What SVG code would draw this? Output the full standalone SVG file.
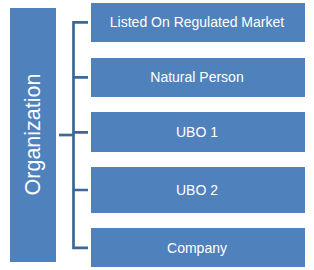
<svg xmlns="http://www.w3.org/2000/svg" width="314" height="270" viewBox="0 0 314 270">
<style>
.box{fill:#4F81BD;}
.lbl{fill:#FFFFFF;font-family:"Liberation Sans",Arial,sans-serif;font-size:14px;text-anchor:middle;dominant-baseline:central;}
.org{font-size:21.5px;}
.conn{fill:none;stroke:#3C6796;stroke-width:2.7;}
</style>
<rect width="314" height="270" fill="#FFFFFF"/>
<g id="connectors">
<path class="conn" d="M88,22.3 H73.5 V247.8 H88"/>
<path class="conn" d="M73.5,77.3 H88 M73.5,132.3 H88 M73.5,190 H88"/>
<path class="conn" d="M59,135 H73.5"/>
</g>
<g id="organization">
<rect class="box" x="10" y="8" width="46" height="254"/>
<text class="lbl org" transform="translate(33,134.5) rotate(-90)">Organization</text>
</g>
<g id="listed">
<rect class="box" x="91" y="3" width="214" height="39"/>
<text class="lbl" x="197" y="22">Listed On Regulated Market</text>
</g>
<g id="natural-person">
<rect class="box" x="91" y="58" width="214" height="39"/>
<text class="lbl" x="197" y="77">Natural Person</text>
</g>
<g id="ubo1">
<rect class="box" x="91" y="112" width="214" height="40"/>
<text class="lbl" x="197" y="131.5">UBO 1</text>
</g>
<g id="ubo2">
<rect class="box" x="91" y="167" width="214" height="46"/>
<text class="lbl" x="197" y="189.5">UBO 2</text>
</g>
<g id="company">
<rect class="box" x="91" y="228" width="214" height="39"/>
<text class="lbl" x="197" y="247.5">Company</text>
</g>
</svg>
